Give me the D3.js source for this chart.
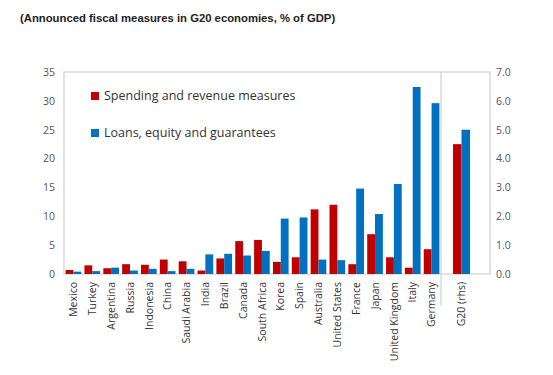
<!DOCTYPE html>
<meta charset="utf-8">
<head>
<title>Announced fiscal measures in G20 economies</title>
<style>
body { margin: 0; background: #fff; }
.title { font: bold 11.3px "Liberation Sans", Arial, sans-serif; fill: #222; }
.tick text { font: 10.5px "Open Sans", sans-serif; fill: #555; }
.xlab text { font: 10.5px "Open Sans", sans-serif; fill: #333; }
.legtext { font: 12.5px "Open Sans", sans-serif; fill: #333; }
</style>
</head>
<body>
<svg width="553" height="375"></svg>
<script src="https://d3js.org/d3.v7.min.js"></script>
<script>
// countries on the left axis (% of GDP)
var countries = ["Mexico","Turkey","Argentina","Russia","Indonesia","China","Saudi Arabia","India",
  "Brazil","Canada","South Africa","Korea","Spain","Australia","United States","France","Japan",
  "United Kingdom","Italy","Germany"];
var spending = [0.7,1.5,1.0,1.7,1.6,2.5,2.2,0.6,2.7,5.7,5.9,2.1,2.9,11.2,12.0,1.7,6.9,2.9,1.1,4.3];
var loans    = [0.4,0.5,1.1,0.6,0.9,0.5,0.9,3.4,3.5,3.2,4.0,9.6,9.8,2.5,2.4,14.8,10.4,15.6,32.4,29.6];

// G20 aggregate on the right axis
var g20Label = "G20 (rhs)";
var g20Spending = 4.5;
var g20Loans = 5.0;

var leftTicks = [0,5,10,15,20,25,30,35];
var rightTicks = [0,1,2,3,4,5,6,7];
var seriesNames = ["Spending and revenue measures","Loans, equity and guarantees"];
var colors = ["#c00000","#0070c0"];

var svg = d3.select("svg");
var pLeft = 64, pRight = 490, sep = 441, pTop = 72, pBottom = 274;

svg.append("text").attr("class","title")
   .attr("x", 20).attr("y", 22)
   .text("(Announced fiscal measures in G20 economies, % of GDP)");

var x = d3.scaleBand().domain(countries).range([pLeft, sep]).paddingInner(0.17).paddingOuter(0.085);
var xs = d3.scaleBand().domain([0,1]).range([0, x.bandwidth()]);
var y = d3.scaleLinear().domain([0,35]).range([pBottom, pTop]);
var yr = d3.scaleLinear().domain([0,7]).range([pBottom, pTop]);
var xg = d3.scaleBand().domain([g20Label]).range([sep, pRight - 8]).paddingOuter(0.7);
var xgs = d3.scaleBand().domain([0,1]).range([0, xg.bandwidth()]);

// frame
svg.append("rect").attr("x", pLeft).attr("y", pTop).attr("width", pRight-pLeft).attr("height", pBottom-pTop)
   .attr("fill","none").attr("stroke","#c8c8c8").attr("stroke-width",1);
svg.append("line").attr("x1", sep).attr("x2", sep).attr("y1", pTop).attr("y2", 306)
   .attr("stroke","#c8c8c8");

// bars
var g = svg.append("g");
countries.forEach(function(c, i) {
  [spending[i], loans[i]].forEach(function(v, k) {
    g.append("rect").attr("x", x(c) + xs(k)).attr("width", xs.bandwidth())
     .attr("y", y(v)).attr("height", pBottom - y(v)).attr("fill", colors[k]);
  });
});
[g20Spending, g20Loans].forEach(function(v, k) {
  g.append("rect").attr("x", xg(g20Label) + xgs(k)).attr("width", xgs.bandwidth())
   .attr("y", yr(v)).attr("height", pBottom - yr(v)).attr("fill", colors[k]);
});

// axes
svg.append("g").attr("transform","translate(" + pLeft + ",0)")
   .call(d3.axisLeft(y).tickValues(leftTicks).tickSize(0).tickPadding(9))
   .call(function(a){ a.select(".domain").remove(); });
svg.append("g").attr("transform","translate(" + pRight + ",0)")
   .call(d3.axisRight(yr).tickValues(rightTicks).tickSize(0).tickPadding(6).tickFormat(d3.format(".1f")))
   .call(function(a){ a.select(".domain").remove(); });

svg.append("g").attr("class","xlab").attr("transform","translate(0," + pBottom + ")")
   .call(d3.axisBottom(x).tickSize(0))
   .call(function(a){ a.select(".domain").remove(); })
   .selectAll("text")
   .attr("transform","rotate(-90)").attr("x", -8).attr("y", 0).attr("dy","0.35em")
   .style("text-anchor","end");
svg.append("g").attr("class","xlab").attr("transform","translate(0," + pBottom + ")")
   .call(d3.axisBottom(xg).tickSize(0))
   .call(function(a){ a.select(".domain").remove(); })
   .selectAll("text")
   .attr("transform","rotate(-90)").attr("x", -8).attr("y", 0).attr("dy","0.35em")
   .style("text-anchor","end");

// legend
seriesNames.forEach(function(s, i) {
  var ly = 96 + i * 37;
  svg.append("rect").attr("x", 91).attr("y", ly - 4).attr("width", 8).attr("height", 8).attr("fill", colors[i]);
  svg.append("text").attr("class","legtext").attr("x", 104).attr("y", ly).attr("dy","0.35em").text(s);
});
</script>
</body>
